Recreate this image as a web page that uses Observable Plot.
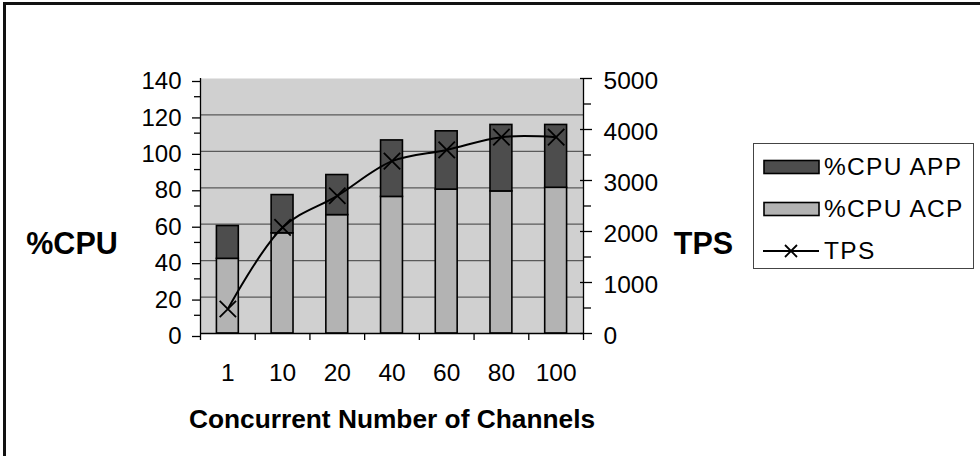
<!DOCTYPE html>
<html>
<head>
<meta charset="utf-8">
<script src="https://cdn.jsdelivr.net/npm/d3@7"></script>
<script src="https://cdn.jsdelivr.net/npm/@observablehq/plot@0.6"></script>
<style>
  html, body { margin: 0; padding: 0; background: #fff; }
  #wrap { position: relative; width: 980px; height: 456px; overflow: hidden; font-family: "Liberation Sans", Arial, sans-serif; }
  #border { position: absolute; left: 3px; top: 2px; width: 1000px; height: 451px; border-left: 3px solid #111; border-top: 3px solid #111; border-bottom: 2px solid #111; box-sizing: content-box; pointer-events: none; }
  #legend { position: absolute; left: 753px; top: 143px; width: 219px; height: 124px; border: 1px solid #444; background: #fff; }
  .item { position: absolute; left: 9px; height: 30px; display: flex; align-items: center; font-size: 24.5px; letter-spacing: 1.3px; color: #000; white-space: nowrap; }
  .item svg { margin-right: 4px; }
</style>
</head>
<body>
<div id="wrap">
  <div id="chart"></div>
  <div id="border"></div>
  <div id="legend"></div>
</div>
<script>
const categories = ["1", "10", "20", "40", "60", "80", "100"];
const cpuACP = [41, 55, 65, 75, 79, 78, 80];
const cpuAPP = [18, 21, 22, 31, 32, 36.5, 34.5];
const tps = [480, 2080, 2700, 3380, 3600, 3850, 3850];
const leftTicks = [0, 20, 40, 60, 80, 100, 120, 140];
const leftMinor = [10, 30, 50, 70, 90, 110, 130];
const rightTicks = [0, 1000, 2000, 3000, 4000, 5000];
const rightMinor = [500, 1500, 2500, 3500, 4500];
const seriesNames = ["%CPU APP", "%CPU ACP", "TPS"];

const yMax = 140, tpsMax = 5000;
const toY = t => t * yMax / tpsMax;
const colors = {app: "#4d4d4d", acp: "#b3b3b3", bg: "#d0d0d0"};
const rows = categories.map((c, i) => ({c, i, acp: cpuACP[i], app: cpuAPP[i], tps: tps[i]}));
const font = "Liberation Sans, Arial, sans-serif";

const chart = Plot.plot({
  width: 980, height: 456,
  marginLeft: 200, marginRight: 397, marginTop: 78, marginBottom: 123,
  style: {fontFamily: font, background: "transparent", overflow: "visible"},
  x: {type: "linear", domain: [0, categories.length], axis: null},
  y: {domain: [0, yMax], axis: null},
  marks: [
    Plot.frame({fill: colors.bg, stroke: null}),
    Plot.ruleY(leftTicks.filter(v => v > 0 && v < yMax), {stroke: "#5a5a5a", strokeWidth: 1.2}),
    Plot.rectY(rows, {x1: d => d.i + 0.3, x2: d => d.i + 0.7, y1: 0, y2: d => d.acp, fill: colors.acp, stroke: "#000", strokeWidth: 1.6}),
    Plot.rectY(rows, {x1: d => d.i + 0.3, x2: d => d.i + 0.7, y1: d => d.acp, y2: d => d.acp + d.app, fill: colors.app, stroke: "#000", strokeWidth: 1.6}),
    Plot.line(rows, {x: d => d.i + 0.5, y: d => toY(d.tps), curve: "catmull-rom", stroke: "#000", strokeWidth: 2}),
    Plot.dot(rows, {x: d => d.i + 0.5, y: d => toY(d.tps), symbol: "times", r: 7.5, stroke: "#000", strokeWidth: 1.8}),
    // axis lines
    Plot.ruleX([0], {stroke: "#000", strokeWidth: 1.3}),
    Plot.ruleX([categories.length], {stroke: "#000", strokeWidth: 1.3}),
    Plot.ruleY([0], {stroke: "#000", strokeWidth: 1.3}),
    // left axis
    Plot.axisY({anchor: "left", ticks: leftTicks, tickSize: 8, tickPadding: 11, fontSize: 24, dy: 3, stroke: "#000", strokeWidth: 1.3, label: null, color: "#000"}),
    Plot.axisY({anchor: "left", ticks: leftMinor, tickSize: 6, tickFormat: () => "", stroke: "#000", strokeWidth: 1.3, label: null}),
    // right axis (TPS)
    Plot.axisY({anchor: "right", ticks: rightTicks.map(toY), tickSize: 12, dx: -4, tickFormat: () => "", stroke: "#000", strokeWidth: 1.3, label: null}),
    Plot.axisY({anchor: "right", ticks: rightTicks.map(toY), tickSize: 0, tickPadding: 20, fontSize: 24.5, dy: 3, tickFormat: v => String(Math.round(v * tpsMax / yMax)), label: null}),
    Plot.axisY({anchor: "right", ticks: rightMinor.map(toY), tickSize: 7, tickFormat: () => "", stroke: "#000", strokeWidth: 1.3, label: null}),
    // x axis
    Plot.axisX({anchor: "bottom", ticks: d3.range(0, categories.length + 1), tickSize: 7, tickFormat: () => "", stroke: "#000", strokeWidth: 1.3, label: null}),
    Plot.axisX({anchor: "bottom", ticks: categories.map((c, i) => i + 0.5), tickSize: 0, tickPadding: 30, fontSize: 24.5, tickFormat: v => categories[Math.floor(v)], label: null}),
    // axis titles
    Plot.text(["Concurrent Number of Channels"], {frameAnchor: "bottom", dy: 86, fontSize: 26.3, fontWeight: "bold", fill: "#000", lineAnchor: "middle"}),
    Plot.text(["%CPU"], {frameAnchor: "left", dx: -128.5, dy: 38.5, fontSize: 30.5, fontWeight: "bold", fill: "#000", textAnchor: "middle"}),
    Plot.text(["TPS"], {frameAnchor: "right", dx: 120, dy: 38.5, fontSize: 30.5, fontWeight: "bold", fill: "#000", textAnchor: "middle"})
  ]
});
document.getElementById("chart").appendChild(chart);

// legend
const legend = document.getElementById("legend");
const tops = [8, 50, 92];
seriesNames.forEach((name, k) => {
  const div = document.createElement("div");
  div.className = "item";
  div.style.top = tops[k] + "px";
  let sw;
  if (k < 2) {
    const fill = k === 0 ? colors.app : colors.acp;
    sw = `<svg width="57" height="16"><rect x="1" y="1.5" width="55" height="13" fill="${fill}" stroke="#000" stroke-width="1.6"/></svg>`;
  } else {
    sw = `<svg width="57" height="16"><line x1="0" y1="8" x2="56" y2="8" stroke="#000" stroke-width="2"/><path d="M22,2 L34,14 M34,2 L22,14" stroke="#000" stroke-width="1.8"/></svg>`;
  }
  div.innerHTML = sw + `<span>${name}</span>`;
  legend.appendChild(div);
});
</script>
</body>
</html>
